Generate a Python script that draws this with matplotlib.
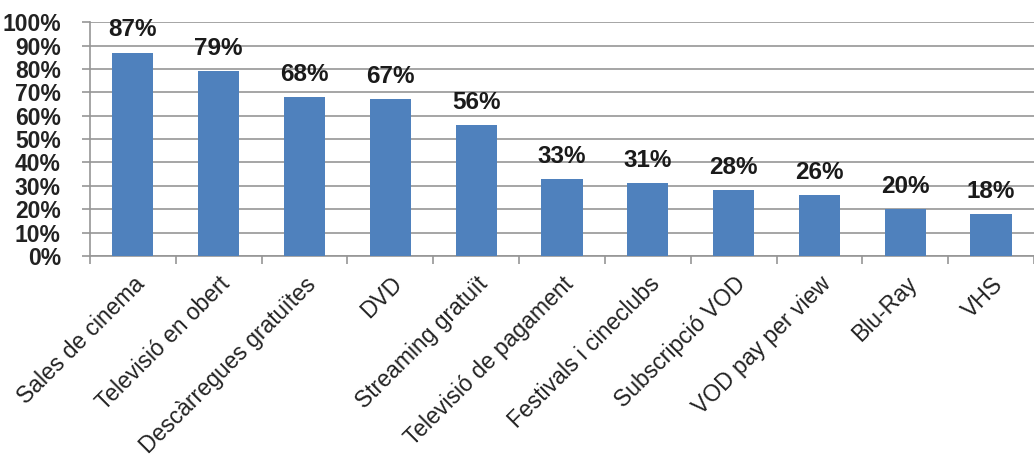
import numpy as np
import matplotlib
matplotlib.use("Agg")
import matplotlib.pyplot as plt
from matplotlib.ticker import FixedLocator

plt.rcParams["font.family"] = ["Liberation Sans", "DejaVu Sans"]

# Data
categories = [
    "Sales de cinema",
    "Televisió en obert",
    "Descàrregues gratuïtes",
    "DVD",
    "Streaming gratuït",
    "Televisió de pagament",
    "Festivals i cineclubs",
    "Subscripció VOD",
    "VOD pay per view",
    "Blu-Ray",
    "VHS",
]
values = [87, 79, 68, 67, 56, 33, 31, 28, 26, 20, 18]
y_ticks = list(range(0, 101, 10))

bar_color = "#4F81BD"
grid_color = "#969696"

fig = plt.figure(figsize=(10.34, 4.62), dpi=100)
ax = fig.add_axes([0.087, 0.446, 0.913, 0.506])

x = np.arange(len(categories))
ax.bar(x, values, width=0.48, color=bar_color, zorder=3)

for xi, v in zip(x, values):
    ax.text(xi, v + 4.8, "{}%".format(v), ha="center", va="bottom",
            fontsize=17.5, fontweight="bold", color="#1a1a1a")

ax.set_xlim(-0.5, len(categories) - 0.5)
ax.set_ylim(0, 100)
ax.set_yticks(y_ticks)
ax.set_yticklabels(["{}%".format(t) for t in y_ticks], fontsize=16.5,
                   fontweight="bold", color="#222222")
ax.yaxis.grid(True, color=grid_color, linewidth=1.2, zorder=0)

# category labels centred under bars, ticks at boundaries
ax.set_xticks(x)
ax.set_xticklabels(categories, rotation=45, ha="right", va="top",
                   rotation_mode="anchor", fontsize=16.5, color="#222222")
ax.tick_params(axis="x", which="major", length=0, pad=12)
ax.xaxis.set_minor_locator(FixedLocator(np.arange(-0.5, len(categories), 1.0)))
ax.tick_params(axis="x", which="minor", length=6, color=grid_color, width=1.2)
ax.tick_params(axis="y", length=6, color=grid_color, width=1.2, pad=15)

for side in ["top", "right"]:
    ax.spines[side].set_visible(False)
for side in ["left", "bottom"]:
    ax.spines[side].set_color(grid_color)
    ax.spines[side].set_linewidth(1.2)

fig.savefig("out.png", dpi=100)
